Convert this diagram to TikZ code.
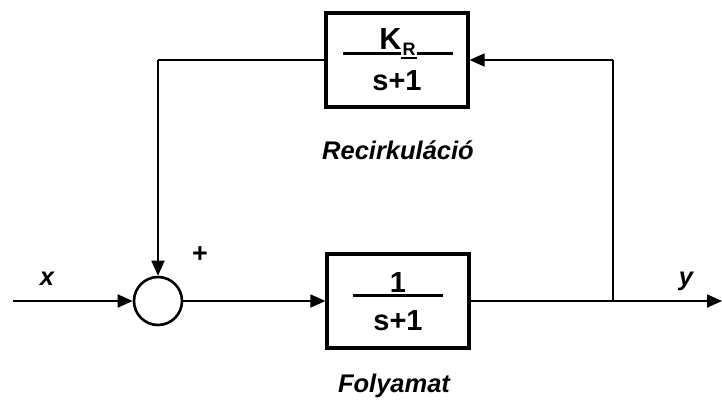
\documentclass[tikz,border=0pt]{standalone}
\usepackage{fontspec}
\setmainfont{Liberation Sans}
\usetikzlibrary{arrows.meta}
\begin{document}
\begin{tikzpicture}[x=1pt,y=-1pt,
  blk/.style={draw,line width=3.2pt,minimum width=142pt,minimum height=94pt,inner sep=0pt},
  sumc/.style={draw,circle,line width=2.6pt,minimum size=48pt,inner sep=0pt},
  conn/.style={line width=1.8pt},
  arr/.style={conn,-{Triangle[length=15pt,width=13pt]}},
  lbl/.style={font=\fontsize{25.5}{28}\selectfont\bfseries\itshape,inner sep=0pt},
  frac/.style={font=\fontsize{29}{31}\selectfont\bfseries,inner sep=0pt},
  fline/.style={line width=3pt}]
\useasboundingbox (0,0) rectangle (722,405);
\node[blk] (fb) at (397,60) {};
\node[blk] (pr) at (398,301) {};
\node[sumc] (sum) at (158,301) {};
\coordinate (in) at (13,301);
\coordinate (out) at (722,301);
\coordinate (br) at (613,301);
\coordinate (brt) at (613,60);
\coordinate (fl) at (158,60);
% fractions
\draw[fline] (343,53) -- (401,53);
\draw[fline] (417,53) -- (453,53);
\node[font=\fontsize{30.5}{32}\selectfont\bfseries,inner sep=0pt,anchor=base] (k) at (390.5,49) {K};
\node[font=\fontsize{18}{19}\selectfont\bfseries,inner sep=0pt,anchor=base] (r) at (409,55.5) {R};
\draw[line width=1.5pt] (401,58) -- (417,58);
\node[frac,anchor=base] (s1) at (397,90) {s+1};
\draw[fline] (353,295) -- (443,295);
\node[frac,anchor=base] (one) at (398,292) {1};
\node[frac,anchor=base] (s2) at (398,330) {s+1};
% connectors
\draw[arr] (in) -- (sum);
\draw[arr] (sum.east) -- (pr.west);
\draw[conn] (pr.east) -- (br);
\draw[arr] (br) -- (out);
\draw[conn] (br) -- (brt);
\draw[arr] (brt) -- (fb.east);
\draw[conn] (fb.west) -- (fl);
\draw[arr] (fl) -- (sum.north);
% labels
\node[lbl,anchor=base] (lx) at (47,285) {x};
\node[font=\fontsize{27}{28}\selectfont\bfseries,inner sep=0pt] (plus) at (200,255) {+};
\node[lbl,anchor=base] (ly) at (686,285) {y};
\node[lbl,anchor=base] (lr) at (398,159) {Recirkuláció};
\node[lbl,anchor=base] (lf) at (394,392) {Folyamat};
\end{tikzpicture}
\end{document}
